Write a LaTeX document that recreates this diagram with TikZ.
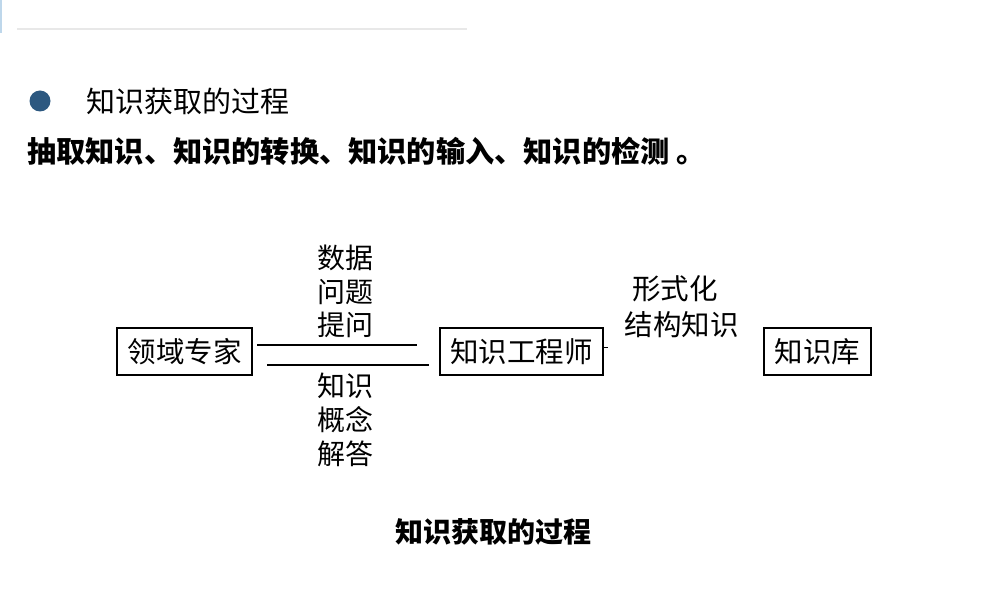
\documentclass[tikz,border=0pt]{standalone}
\usepackage{fontspec}
\setmainfont{Noto Sans CJK SC}
\newfontfamily\cjk{Noto Sans CJK SC}
\definecolor{edgeblue}{RGB}{190,215,235}
\definecolor{rulegray}{RGB}{232,232,232}
\definecolor{bulletblue}{RGB}{44,88,128}
\begin{document}
\begin{tikzpicture}[x=1pt,y=-1pt,
  box/.style={draw=black,line width=1.2pt,inner sep=0pt,minimum height=47pt,font=\cjk\fontsize{28.5}{30}\selectfont},
  lbl/.style={inner sep=0pt,font=\cjk\fontsize{28}{30}\selectfont},
  link/.style={draw=black,line width=1.3pt}]
\useasboundingbox (0,0) rectangle (998,593);
\fill[white] (0,0) rectangle (998,593);
% decorations
\draw[draw=edgeblue,line width=2pt] (1,0) -- (1,33);
\draw[draw=rulegray,line width=2pt] (17,29) -- (467,29);
\fill[bulletblue] (40,101) circle (10.5);
\node[lbl,anchor=west,font=\cjk\fontsize{29}{30}\selectfont] (head) at (86,101) {知识获取的过程};
\node[lbl,anchor=west,font=\cjk\bfseries\fontsize{29.2}{30}\selectfont] (sub) at (27,151) {抽取知识、知识的转换、知识的输入、知识的检测 。};
% boxes
\node[box,minimum width=135pt] (expert) at (184.5,351.5) {领域专家};
\node[box,minimum width=163pt] (engineer) at (521.5,351.5) {知识工程师};
\node[box,minimum width=107pt] (kb) at (817.5,351.5) {知识库};
% links
\coordinate (a1) at (257,345);
\coordinate (a2) at (417,345);
\coordinate (b1) at (267,365);
\coordinate (b2) at (429,365);
\draw[link] (a1) -- (a2);
\draw[link] (b1) -- (b2);
\coordinate (t1) at (603,347);
\coordinate (t2) at (608,347);
\draw[black,line width=0.8pt] (t1) -- (t2);
% labels
\node[lbl] (l1) at (345.5,258) {数据};
\node[lbl] (l2) at (345.5,292) {问题};
\node[lbl] (l3) at (345.5,325) {提问};
\node[lbl] (l4) at (345.5,386) {知识};
\node[lbl] (l5) at (345.5,420) {概念};
\node[lbl] (l6) at (345.5,454) {解答};
\node[lbl,font=\cjk\fontsize{28.5}{30}\selectfont] (r1) at (675,289) {形式化};
\node[lbl,font=\cjk\fontsize{28.5}{30}\selectfont] (r2) at (681.5,325) {结构知识};
\node[lbl,font=\cjk\bfseries\fontsize{28}{30}\selectfont] (cap) at (493,532) {知识获取的过程};
\end{tikzpicture}
\end{document}
